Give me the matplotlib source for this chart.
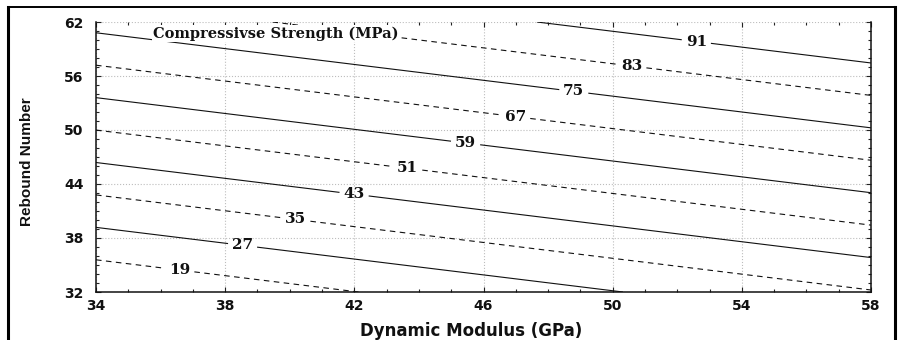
import numpy as np
import matplotlib
matplotlib.use("Agg")
import matplotlib.pyplot as plt
from matplotlib.ticker import MultipleLocator
from matplotlib.lines import Line2D

# Fitted plane: strength = intercept + k_modulus * E + k_rebound * R
intercept = -93.2
k_modulus = 0.977
k_rebound = 2.22

levels = [19, 27, 35, 43, 51, 59, 67, 75, 83, 91]
level_styles = ["dashed", "solid", "dashed", "solid", "dashed",
                "solid", "dashed", "solid", "dashed", "solid"]
label_spots = [(36.6, 34.6), (38.55, 37.5), (40.2, 40.4), (42.0, 43.1),
               (43.66, 45.9), (45.45, 48.7), (47.0, 51.6), (48.8, 54.4),
               (50.6, 57.3), (52.6, 60.1)]
x_ticks = [34, 38, 42, 46, 50, 54, 58]
y_ticks = [32, 38, 44, 50, 56, 62]

W, H = 899, 340
fig = plt.figure(figsize=(W / 100, H / 100), dpi=100)
ax = fig.add_axes([96 / W, 1 - 292 / H, 775 / W, 270 / H])

E = np.linspace(x_ticks[0], x_ticks[-1], 241)
R = np.linspace(y_ticks[0], y_ticks[-1], 241)
EE, RR = np.meshgrid(E, R)
ZZ = intercept + k_modulus * EE + k_rebound * RR

dash = (0, (5, 4))
styles = ["-" if s == "solid" else dash for s in level_styles]
cs = ax.contour(EE, RR, ZZ, levels=levels, colors="#111111",
                linewidths=0.8, linestyles=styles)
labels = ax.clabel(cs, levels, inline=True, inline_spacing=5, fmt="%d",
                   manual=label_spots, fontsize=11)
for t in labels:
    t.set_rotation(0)
    t.set_fontfamily("DejaVu Serif")
    t.set_fontweight("bold")
    t.set_color("#111111")

ax.set_xlim(x_ticks[0], x_ticks[-1])
ax.set_ylim(y_ticks[0], y_ticks[-1])
ax.set_xticks(x_ticks)
ax.set_yticks(y_ticks)
ax.xaxis.set_minor_locator(MultipleLocator(1))
ax.yaxis.set_minor_locator(MultipleLocator(1))
ax.tick_params(which="both", direction="in", top=True, right=True,
               color="#222222", width=0.8)
ax.tick_params(which="major", length=3.5)
ax.tick_params(which="minor", length=2.2)
ax.tick_params(axis="y", which="major", pad=9)
ax.tick_params(axis="x", which="major", pad=5)
for lab in ax.get_xticklabels() + ax.get_yticklabels():
    lab.set_fontfamily("DejaVu Sans")
    lab.set_fontweight("bold")
    lab.set_fontsize(10)
    lab.set_color("#111111")

ax.grid(True, which="major", linestyle=":", color="#bdbdbd", linewidth=0.8)
ax.set_axisbelow(True)
ax.spines["top"].set_visible(False)
for side in ("left", "bottom", "right"):
    ax.spines[side].set_linewidth(1.1)
    ax.spines[side].set_color("#111111")

ax.text(0.232, 0.941, "Compressivse Strength (MPa)", transform=ax.transAxes,
        ha="center", va="baseline", fontsize=10.5, fontweight="bold",
        family="DejaVu Serif", color="#111111", zorder=5,
        bbox=dict(facecolor="white", edgecolor="none", pad=1))

fig.text(471 / W, 1 - 331 / H, "Dynamic Modulus (GPa)", ha="center",
         va="center", fontsize=12, fontweight="bold", family="DejaVu Sans",
         color="#111111")
fig.text(27 / W, 1 - 162 / H, "Rebound Number", ha="center", va="center",
         rotation=90, fontsize=11, fontweight="bold",
         family=["Liberation Sans Narrow", "Liberation Sans"],
         color="#111111")

# Outer frame (open at the bottom)
fx0, fx1, fy1 = 7.5 / W, 895 / W, 1 - 7 / H
fig.add_artist(Line2D([fx0, fx0], [0, fy1], transform=fig.transFigure,
                      color="black", linewidth=2.2))
fig.add_artist(Line2D([fx1, fx1], [0, fy1], transform=fig.transFigure,
                      color="black", linewidth=2.2))
fig.add_artist(Line2D([fx0, fx1], [fy1, fy1], transform=fig.transFigure,
                      color="black", linewidth=1.4, solid_capstyle="projecting"))

fig.savefig("out.png", dpi=100)
